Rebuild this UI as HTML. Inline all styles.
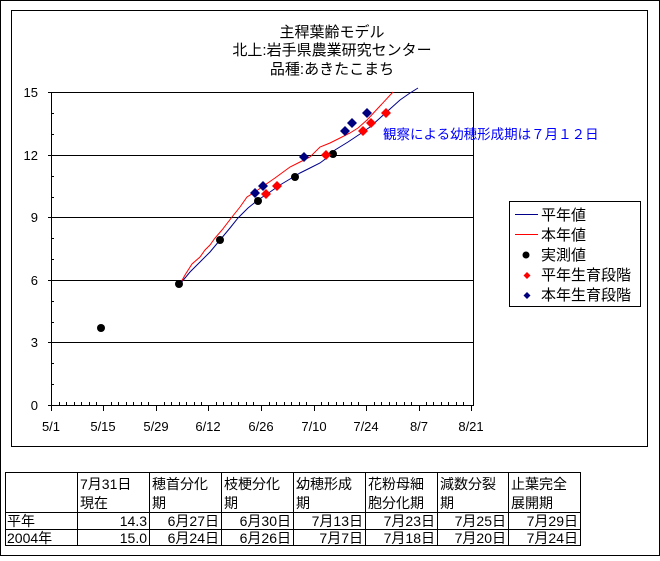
<!DOCTYPE html>
<html><head><meta charset="utf-8"><style>
body{margin:0;background:#fff;}
svg text{font-family:"Liberation Sans","Noto Sans CJK JP",sans-serif;}
</style></head><body>
<svg width="660" height="556" viewBox="0 0 660 556" xmlns="http://www.w3.org/2000/svg">
<rect x="0.5" y="0.5" width="659" height="555" fill="#fff" stroke="#000"/>
<rect x="11.5" y="10.5" width="636" height="436" fill="#fff" stroke="#000"/>
<g font-size="15" text-anchor="middle" fill="#000">
<text x="332" y="37">主稈葉齢モデル</text>
<text x="332" y="55">北上:岩手県農業研究センター</text>
<text x="332" y="74">品種:あきたこまち</text>
</g>
<g stroke="#000" stroke-width="1">
<line x1="51" y1="92.5" x2="473" y2="92.5"/>
<line x1="51" y1="155.5" x2="473" y2="155.5"/>
<line x1="51" y1="217.5" x2="473" y2="217.5"/>
<line x1="51" y1="280.5" x2="473" y2="280.5"/>
<line x1="51" y1="342.5" x2="473" y2="342.5"/>
<line x1="51" y1="405.5" x2="473" y2="405.5"/>
<line x1="51.5" y1="92" x2="51.5" y2="406"/>
<line x1="473.5" y1="92" x2="473.5" y2="406"/>
</g>
<g stroke="#000">
<path d="M48 92.5h3M48 155.5h3M48 217.5h3M48 280.5h3M48 342.5h3M48 405.5h3
M51 113.5h3M51 134.5h3M51 176.5h3M51 197.5h3M51 238.5h3M51 259.5h3M51 301.5h3M51 322.5h3M51 363.5h3M51 384.5h3"/>
</g>
<g stroke="#000">
<path d="M51.5 405v6M103.5 405v6M156.5 405v6M208.5 405v6M261.5 405v6M314.5 405v6M366.5 405v6M419.5 405v6M471.5 405v6
M59.5 405v-3M66.5 405v-3M74.5 405v-3M81.5 405v-3M89.5 405v-3M96.5 405v-3
M111.5 405v-3M118.5 405v-3M126.5 405v-3M133.5 405v-3M141.5 405v-3M148.5 405v-3
M164.5 405v-3M171.5 405v-3M179.5 405v-3M186.5 405v-3M194.5 405v-3M201.5 405v-3
M216.5 405v-3M223.5 405v-3M231.5 405v-3M238.5 405v-3M246.5 405v-3M253.5 405v-3
M269.5 405v-3M276.5 405v-3M284.5 405v-3M291.5 405v-3M299.5 405v-3M306.5 405v-3
M321.5 405v-3M328.5 405v-3M336.5 405v-3M343.5 405v-3M351.5 405v-3M358.5 405v-3
M374.5 405v-3M381.5 405v-3M389.5 405v-3M396.5 405v-3M404.5 405v-3M411.5 405v-3
M426.5 405v-3M433.5 405v-3M441.5 405v-3M448.5 405v-3M456.5 405v-3M463.5 405v-3"/>
</g>
<g font-size="13" text-anchor="end" fill="#000">
<text x="38" y="97">15</text><text x="38" y="160">12</text><text x="38" y="222">9</text>
<text x="38" y="285">6</text><text x="38" y="347">3</text><text x="38" y="410">0</text>
</g>
<g font-size="13" text-anchor="middle" fill="#000">
<text x="51" y="431">5/1</text><text x="103" y="431">5/15</text><text x="156" y="431">5/29</text>
<text x="208" y="431">6/12</text><text x="261" y="431">6/26</text><text x="314" y="431">7/10</text>
<text x="366" y="431">7/24</text><text x="419" y="431">8/7</text><text x="471" y="431">8/21</text>
</g>
<polyline fill="none" stroke-width="1" stroke="#00008b" points="180,284 190,272 200,262 210,252 220,240 230,228 238,218 248,208 258,200 270,192 280,185 290,179 300,173 310,168 320,163 328,157 335,150 348,142 360,134 370,127 380,118 390,109 400,100 410,93 418,88"/>
<polyline fill="none" stroke="#f00" stroke-width="1" points="180,284 185,275 192,264 200,257 205,250 210,245 215,238 222,230 232,217 240,207 247,197 255,192 262,187 275,178 290,167 300,162 310,157 320,147 330,143 340,138 350,133 358,128 367,120 380,106 393,92"/>
<g fill="#000">
<circle cx="101" cy="328" r="4"/><circle cx="179" cy="284" r="4"/><circle cx="220" cy="240" r="4"/>
<circle cx="258" cy="201" r="4"/><circle cx="295" cy="177" r="4"/><circle cx="333" cy="154" r="4"/>
</g>
<g fill="#f00">
<path d="M266 189l5 5-5 5-5-5z"/><path d="M277 181l5 5-5 5-5-5z"/><path d="M326 150l5 5-5 5-5-5z"/>
<path d="M363 126l5 5-5 5-5-5z"/><path d="M371 118l5 5-5 5-5-5z"/><path d="M386 108l5 5-5 5-5-5z"/>
</g>
<g fill="#00007f">
<path d="M255 188l5 5-5 5-5-5z"/><path d="M263 181l5 5-5 5-5-5z"/><path d="M304 152l5 5-5 5-5-5z"/>
<path d="M345 126l5 5-5 5-5-5z"/><path d="M352 118l5 5-5 5-5-5z"/><path d="M367 108l5 5-5 5-5-5z"/>
</g>
<text x="383" y="139" font-size="13.5" fill="#00f">観察による幼穂形成期は７月１２日</text>
<rect x="509.5" y="201.5" width="131" height="105" fill="#fff" stroke="#000"/>
<line x1="515" y1="214.5" x2="538" y2="214.5" stroke="#00008b"/>
<line x1="515" y1="234.5" x2="538" y2="234.5" stroke="#f00"/>
<circle cx="526" cy="255" r="3.5" fill="#000"/>
<path d="M527 272l3.5 3.5-3.5 3.5-3.5-3.5z" fill="#f00"/>
<path d="M527 292l3.5 3.5-3.5 3.5-3.5-3.5z" fill="#00007f"/>
<g font-size="15" fill="#000">
<text x="541" y="220">平年値</text><text x="541" y="240">本年値</text><text x="541" y="260">実測値</text>
<text x="541" y="280">平年生育段階</text><text x="541" y="300">本年生育段階</text>
</g>
<g stroke="#000" fill="none">
<rect x="5.5" y="472.5" width="575" height="73"/>
<line x1="5" y1="512.5" x2="581" y2="512.5"/><line x1="5" y1="529.5" x2="581" y2="529.5"/>
<path d="M77.5 472v74M149.5 472v74M221.5 472v74M293.5 472v74M365.5 472v74M437.5 472v74M508.5 472v74"/>
</g>
<g font-size="14" fill="#000">
<text x="80" y="489">7月31日</text><text x="80" y="508">現在</text>
<text x="152" y="489">穂首分化</text><text x="152" y="508">期</text>
<text x="224" y="489">枝梗分化</text><text x="224" y="508">期</text>
<text x="296" y="489">幼穂形成</text><text x="296" y="508">期</text>
<text x="368" y="489">花粉母細</text><text x="368" y="508">胞分化期</text>
<text x="440" y="489">減数分裂</text><text x="440" y="508">期</text>
<text x="511" y="489">止葉完全</text><text x="511" y="508">展開期</text>
<text x="7" y="526">平年</text><text x="7" y="543">2004年</text>
</g>
<g font-size="14" fill="#000" text-anchor="end">
<text x="147" y="526">14.3</text><text x="219" y="526">6月27日</text><text x="291" y="526">6月30日</text><text x="363" y="526">7月13日</text><text x="435" y="526">7月23日</text><text x="506" y="526">7月25日</text><text x="578" y="526">7月29日</text>
<text x="147" y="543">15.0</text><text x="219" y="543">6月24日</text><text x="291" y="543">6月26日</text><text x="363" y="543">7月7日</text><text x="435" y="543">7月18日</text><text x="506" y="543">7月20日</text><text x="578" y="543">7月24日</text>
</g>
</svg>
</body></html>
